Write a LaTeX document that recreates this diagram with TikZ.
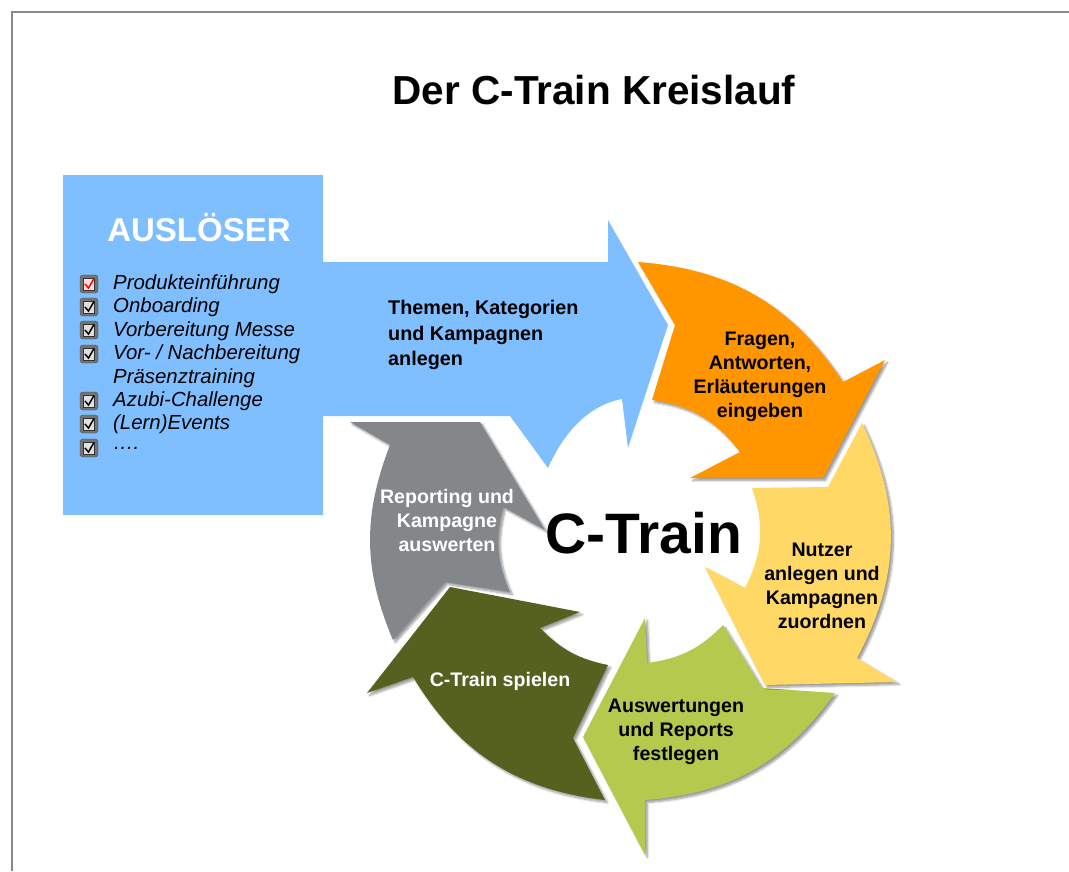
\documentclass[tikz,border=0pt]{standalone}
\usepackage{fontspec}
\setmainfont{Liberation Sans}
\usetikzlibrary{shadows.blur}
\definecolor{ausblau}{RGB}{128,191,255}
\definecolor{kvorange}{RGB}{255,150,0}
\definecolor{kvgelb}{RGB}{255,216,102}
\definecolor{kvhellgruen}{RGB}{181,201,79}
\definecolor{kvdunkelgruen}{RGB}{86,97,32}
\definecolor{kvgrau}{RGB}{132,135,138}
\definecolor{rahmengrau}{RGB}{136,136,136}

\begin{document}
\begin{tikzpicture}[x=1pt,y=-1pt]
\tikzstyle{pfeil}=[blur shadow={shadow xshift=2.5pt,shadow yshift=-2.5pt,shadow blur steps=6,shadow opacity=40}];
\tikzstyle{schrift}=[inner sep=0pt,align=center,font=\bfseries\fontsize{19.6}{24}\selectfont];
\useasboundingbox (0,0) rectangle (1069,871);
\draw[rahmengrau,line width=2.5pt] (12,871) -- (12,12) -- (1069,12);
\node[inner sep=0pt,font=\bfseries\fontsize{40.5}{44}\selectfont] (titel) at (594,90) {Der C-Train Kreislauf};
% Ausloeser
\fill[ausblau] (63,175) -- (323,175) -- (323,262) -- (608,262) -- (608,220) -- (668,325)
	-- (628,448) -- (622,399) .. controls (590,405) and (565,430) .. (548,468)
	-- (510,416) -- (323,416) -- (323,515) -- (63,515) -- cycle;
\node[inner sep=0pt,text=white,font=\bfseries\fontsize{33}{36}\selectfont] (ausloeser) at (199,228) {AUSLÖSER};
\foreach \y/\c in {284/red,307/black,330/black,354/black,401/black,424/black,448/black}{
	\draw[rounded corners=3pt,draw=black!70,fill=black!55] (80,\y-9) rectangle (98,\y+9);
	\draw[draw=black!80,fill=\c!12!white] (83.5,\y-6) rectangle (94.5,\y+6);
	\draw[\c,line width=1.5pt] (85,\y) -- (88.5,\y+4) -- (94,\y-5.5);
}
\foreach \y/\t [count=\i] in {284/Produkteinführung,307/Onboarding,331/Vorbereitung Messe,354/{Vor- / Nachbereitung},378/Präsenztraining,401/Azubi-Challenge,424/(Lern)Events,448/….}
	\node[anchor=west,inner sep=0pt,font=\itshape\fontsize{20.4}{22}\selectfont] (punkt\i) at (113,\y) {\t};
\node[schrift,anchor=west,align=left,font=\bfseries\fontsize{19.8}{25.5}\selectfont] (themen) at (388,335) {Themen, Kategorien\\und Kampagnen\\anlegen};
% Kreislauf
\fill[kvgrau,pfeil] (393,640) -- (445,582) -- (510,592) to[bend left=19] (503,507) -- (545,530)
	-- (480,422) -- (350,422) -- (390,445) to[bend right=22] (393,640) -- cycle;
\fill[kvdunkelgruen,pfeil] (608,665) -- (573,738) -- (605,800) to[bend left=26] (413,677) -- (367,693)
	-- (450,587) -- (580,612) -- (540,628) to[bend right=17] (608,665) -- cycle;
\fill[kvhellgruen,pfeil] (723,625) -- (762,688) -- (835,693) to[bend left=25] (645,800) -- (645,855)
	-- (583,737) -- (645,618) -- (647,663) to[bend right=19] (723,625) -- cycle;
\fill[kvgelb,pfeil] (862,423) -- (828,487) -- (752,488) to[bend left=23] (745,588) -- (705,567)
	-- (765,685) -- (897,682) -- (857,658) to[bend right=27] (862,423) -- cycle;
\fill[kvorange,pfeil] (638,262) -- (675,325) -- (652,400) to[bend left=22] (740,452) -- (690,478)
	-- (823,478) -- (885,360) -- (843,382) to[bend right=26] (638,262) -- cycle;
\node[schrift] (fragen) at (760,377) {Fragen,\\Antworten,\\Erläuterungen\\eingeben};
\node[schrift] (nutzer) at (822,586) {Nutzer\\anlegen und\\Kampagnen\\zuordnen};
\node[schrift] (auswertung) at (676,732) {Auswertungen\\und Reports\\festlegen};
\node[schrift,text=white] (spielen) at (500,681) {C-Train spielen};
\node[schrift,text=white] (reporting) at (447,520) {Reporting und\\Kampagne\\auswerten};
\node[inner sep=0pt,font=\bfseries\fontsize{57}{60}\selectfont] (ctrain) at (644,533) {C-Train};
\end{tikzpicture}
\end{document}
